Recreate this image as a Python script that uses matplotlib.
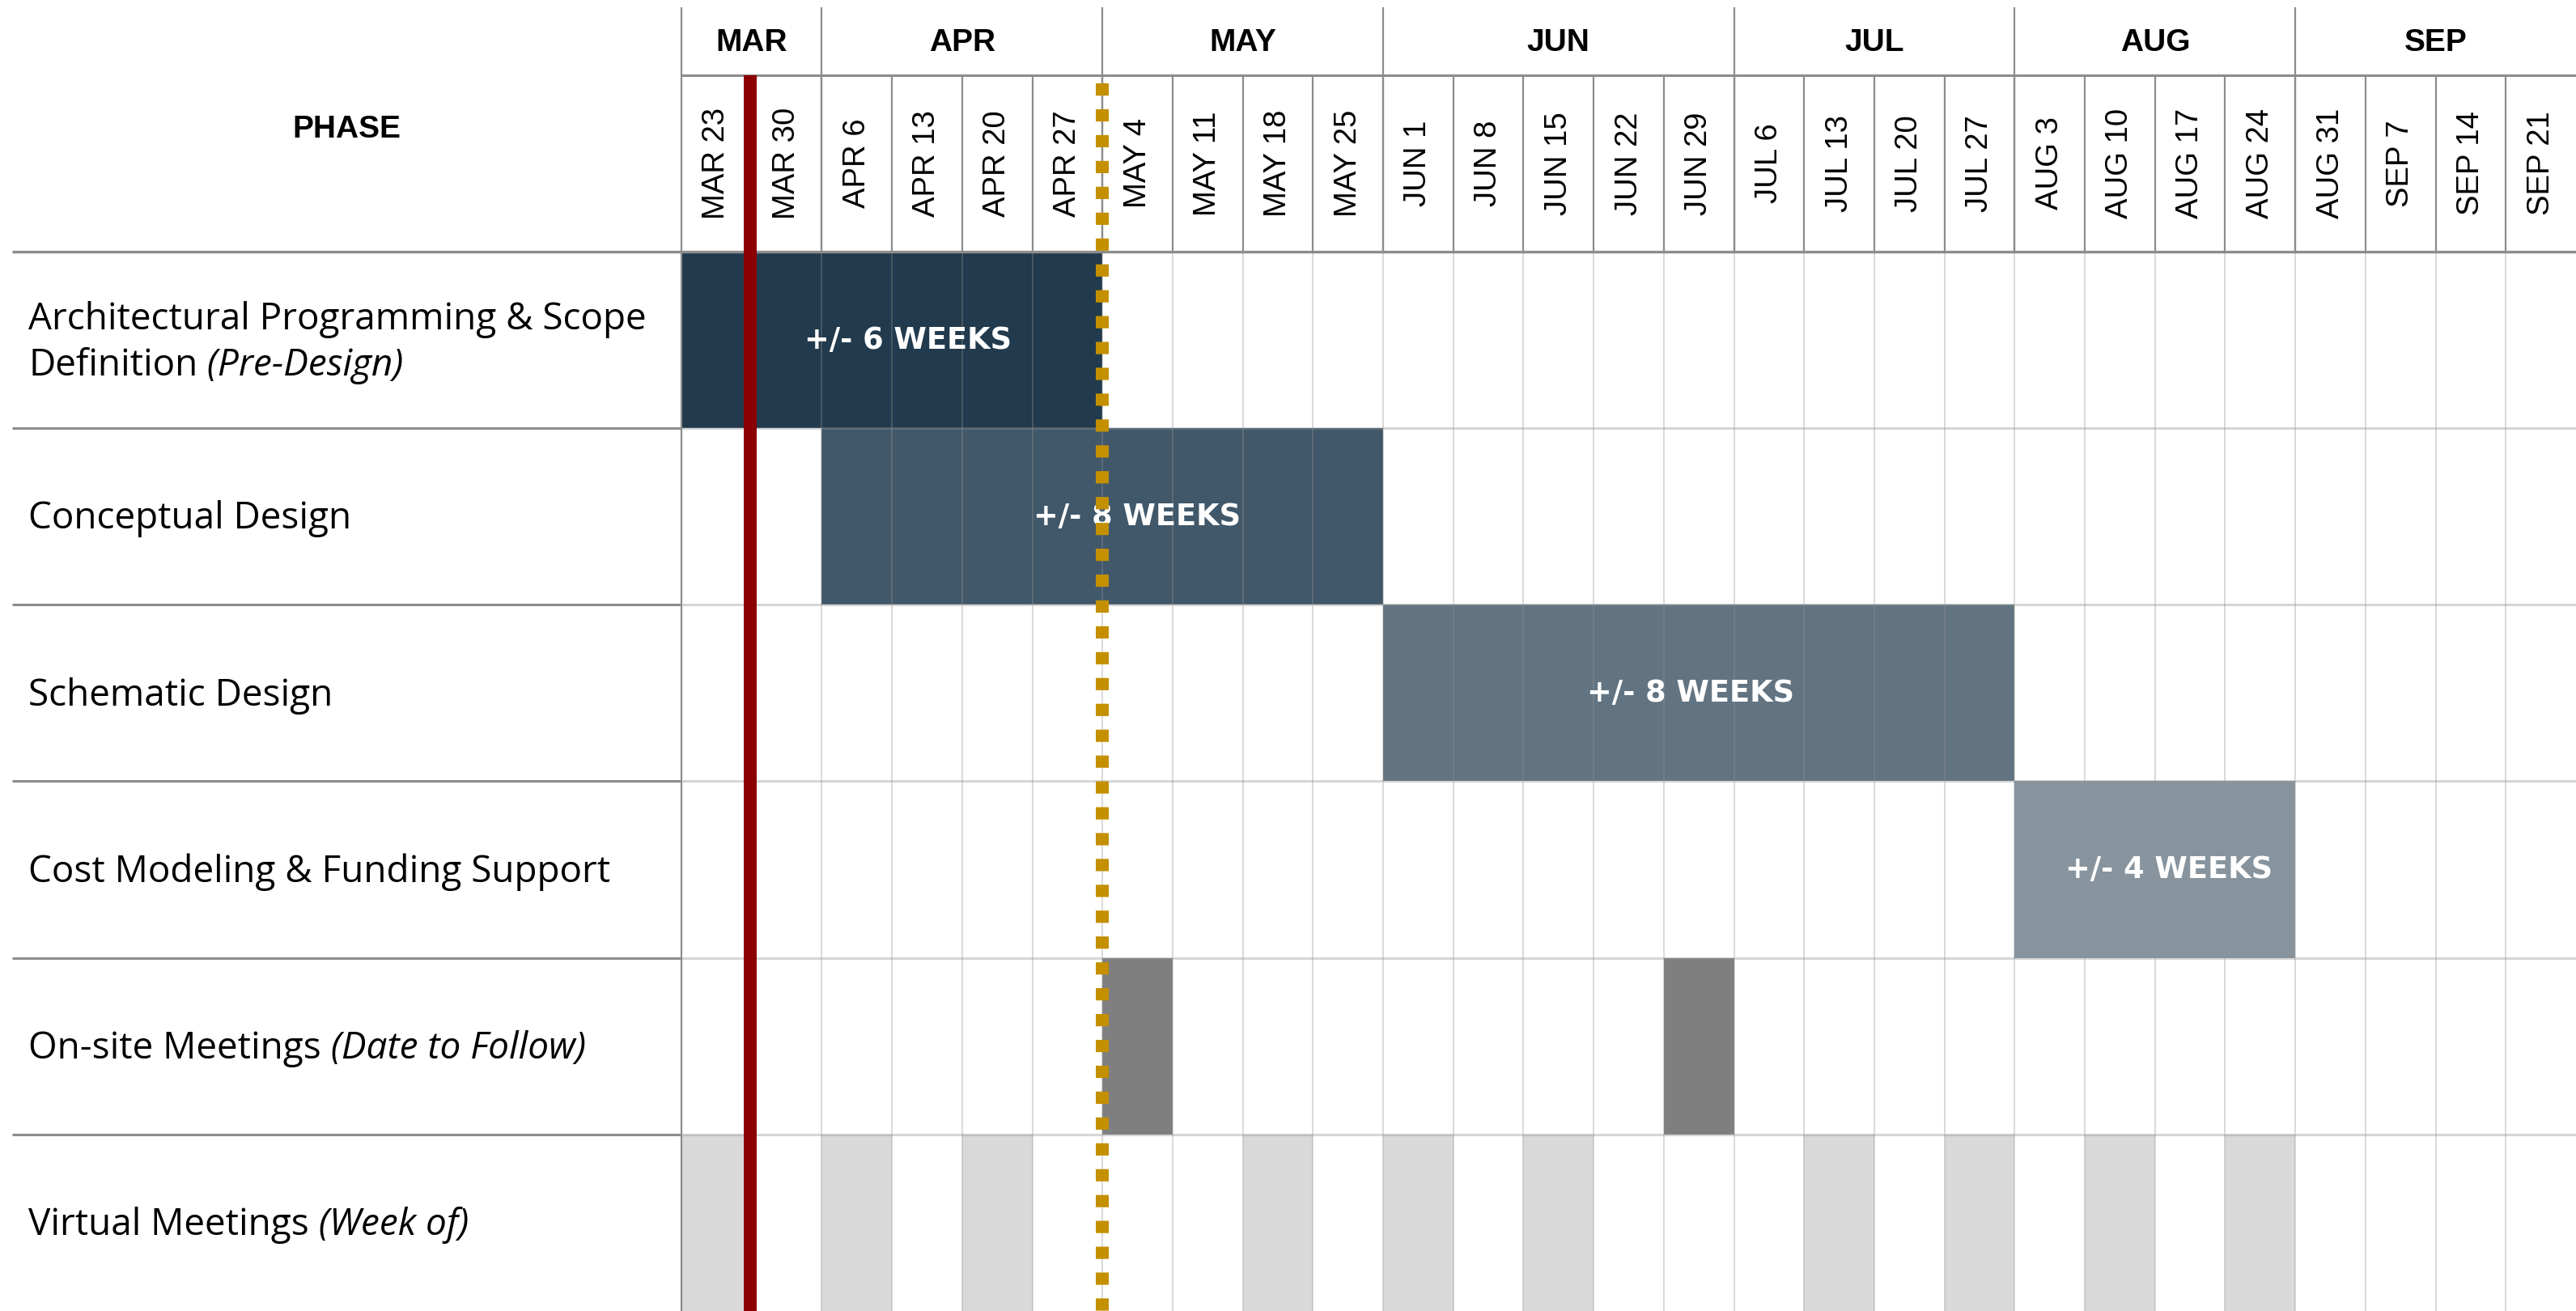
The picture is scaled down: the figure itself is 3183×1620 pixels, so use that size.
import numpy as np
import matplotlib
matplotlib.use("Agg")
import matplotlib.pyplot as plt

# ---- data ----
weeks = ["MAR 23", "MAR 30", "APR 6", "APR 13", "APR 20", "APR 27",
         "MAY 4", "MAY 11", "MAY 18", "MAY 25",
         "JUN 1", "JUN 8", "JUN 15", "JUN 22", "JUN 29",
         "JUL 6", "JUL 13", "JUL 20", "JUL 27",
         "AUG 3", "AUG 10", "AUG 17", "AUG 24",
         "AUG 31", "SEP 7", "SEP 14", "SEP 21"]
months = ["MAR", "APR", "MAY", "JUN", "JUL", "AUG", "SEP"]
month_weeks = [2, 4, 4, 5, 4, 4, 4]

row_labels = [
    [("Architectural Programming & Scope", ""), ("Definition", "(Pre-Design)")],
    [("Conceptual Design", "")],
    [("Schematic Design", "")],
    [("Cost Modeling & Funding Support", "")],
    [("On-site Meetings", "(Date to Follow)")],
    [("Virtual Meetings", "(Week of)")],
]

phase_start = ["MAR 23", "APR 6", "JUN 1", "AUG 3"]
phase_weeks = [6, 8, 9, 4]
phase_text = ["+/- 6 WEEKS", "+/- 8 WEEKS", "+/- 8 WEEKS", "+/- 4 WEEKS"]
onsite_weeks = ["MAY 4", "JUN 29"]
virtual_weeks = ["MAR 23", "APR 6", "APR 20", "MAY 18", "JUN 1", "JUN 15",
                 "JUL 13", "JUL 27", "AUG 10", "AUG 24"]
today_week = 0.98          # weeks after MAR 23
milestone_week = "MAY 4"

# ---- style ----
phase_colors = ["#223A4D", "#41586A", "#627482", "#87949E"]
onsite_color = "#7F7F7F"
virtual_color = "#D9D9D9"
hdr_line = "#8C8C8C"
label_nudge = [0.23, 0.49, -0.12, 0.2]

LABEL_FONT = "Open Sans"
HEAD_FONT = "Liberation Sans"

n = len(weeks)
nrows = len(row_labels)
widx = {w: i for i, w in enumerate(weeks)}

fig = plt.figure(figsize=(31.83, 16.2), dpi=100)
ax = fig.add_axes([0, 0, 1, 1])
x_left = -842 / 86.7
y_top = -311 / 218.2
hdr_top = y_top + 9 / 218.2
lab_left = x_left + 15 / 86.7
ax.set_xlim(x_left, n)
ax.set_ylim(nrows, y_top)
ax.axis("off")

# bars
for i, (s, d) in enumerate(zip(phase_start, phase_weeks)):
    x0 = widx[s]
    ax.barh(i + 0.5, d, left=x0, height=1, color=phase_colors[i], zorder=1)
    ax.text(x0 + d / 2 + label_nudge[i], i + 0.5, phase_text[i], color="white",
            fontsize=26.5, fontweight="bold", family="DejaVu Sans",
            ha="center", va="center", zorder=3.5)

ax.barh([4.5] * len(onsite_weeks), 1, left=[widx[w] for w in onsite_weeks],
        height=1, color=onsite_color, zorder=1)
ax.barh([5.5] * len(virtual_weeks), 1, left=[widx[w] for w in virtual_weeks],
        height=1, color=virtual_color, zorder=1)

# body grid (semi-transparent so it shows on the bars)
ax.vlines(np.arange(1, n), 0, nrows, color="#929292", alpha=0.4, lw=1.2, zorder=2)
ax.hlines(np.arange(1, nrows), 0, n, color="#929292", alpha=0.37, lw=2.2, zorder=2)

# header lines
bounds = np.concatenate([[0], np.cumsum(month_weeks)])
ax.vlines(np.arange(1, n), -1, 0, color=hdr_line, lw=1.6, zorder=3)
ax.vlines(bounds[1:-1], hdr_top, 0, color=hdr_line, lw=1.6, zorder=3)
ax.vlines(0, hdr_top, nrows, color=hdr_line, lw=1.6, zorder=3)
ax.hlines(-1, 0, n, color=hdr_line, lw=2.2, zorder=3)
ax.hlines(0, lab_left, n, color=hdr_line, lw=2.4, zorder=3)
ax.hlines(np.arange(1, nrows), lab_left, 0, color=hdr_line, lw=2.2, zorder=3)

# header text
ax.text((lab_left + 0) / 2, (hdr_top + 0) / 2, "PHASE", family=HEAD_FONT,
        fontweight="bold", fontsize=28, ha="center", va="center")
for m, a, b in zip(months, bounds[:-1], bounds[1:]):
    ax.text((a + b) / 2, (hdr_top - 1) / 2 + 0.01, m, family=HEAD_FONT,
            fontweight="bold", fontsize=28, ha="center", va="center")
for i, w in enumerate(weeks):
    ax.text(i + 0.5, -0.5, w, family=HEAD_FONT, fontsize=27.5, rotation=90,
            ha="center", va="center")

# row labels, regular + italic parts
renderer = fig.canvas.get_renderer()
inv = ax.transData.inverted()
x_txt = x_left + 35 / 86.7
for r, lines in enumerate(row_labels):
    k = len(lines)
    for j, (reg, ital) in enumerate(lines):
        y = r + 0.5 + (j - (k - 1) / 2) * 0.26 + 0.07
        t = ax.text(x_txt, y, reg, family=LABEL_FONT, fontsize=33,
                    ha="left", va="baseline")
        if ital:
            bb = t.get_window_extent(renderer)
            xe = inv.transform((bb.x1, bb.y0))[0]
            ax.text(xe, y, " " + ital, family=LABEL_FONT, fontsize=33,
                    style="italic", ha="left", va="baseline")

# today marker and milestone
ax.vlines(today_week, -1, nrows, color="#8B0000", lw=11.5, zorder=4)
ax.plot([widx[milestone_week]] * 2, [-0.953, nrows], color="#C49000", lw=11.5,
        linestyle=(0, (0.95, 1.05)), solid_capstyle="butt",
        dash_capstyle="butt", zorder=5)

fig.savefig("out.png", dpi=100)
